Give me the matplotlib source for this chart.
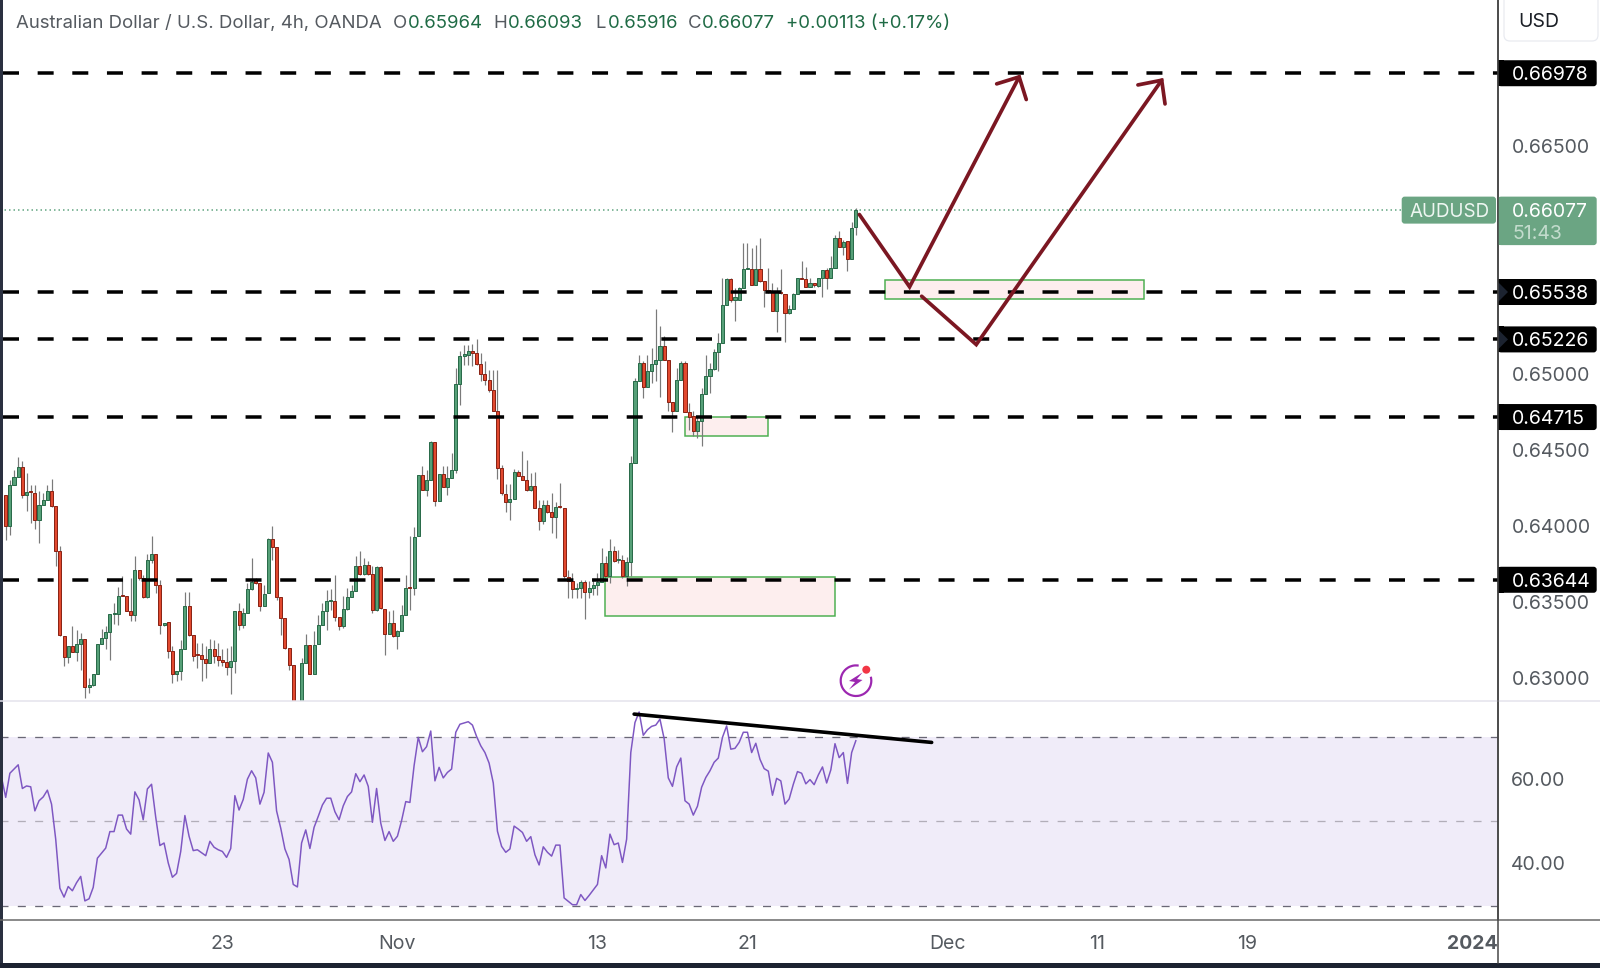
from matplotlib import pyplot as plt
from matplotlib.patches import Arc, Circle, FancyBboxPatch, Polygon, Rectangle
import numpy as np

plt.rcParams['font.family'] = ['Inter', 'DejaVu Sans']
plt.rcParams['lines.scale_dashes'] = False

# candles, prices in 1e-5 units
opens = [
    64204,63996,64270,64318,64384,64200,64228,64215,64035,64134,
    64171,64228,64130,63832,63272,63136,63211,63167,63218,63257,
    62941,62954,63025,63222,63261,63301,63421,63421,63542,63540,
    63441,63410,63711,63656,63529,63772,63814,63608,63345,63364,
    63174,63025,63042,63191,63470,63279,63156,63147,63125,63097,
    63185,63141,63119,63103,63071,63108,63437,63349,63426,63584,
    63641,63623,63474,63557,63913,63860,63529,63391,63193,63084,
    62790,62700,63097,63213,63025,63218,63349,63437,63503,63503,
    63400,63338,63452,63529,63568,63737,63685,63744,63682,63448,
    63726,63454,63285,63360,63272,63310,63415,63595,63590,63930,
    64332,64233,64299,64551,64161,64343,64255,64313,64366,64932,
    65120,65125,65147,65136,65066,64998,64960,64890,64756,64379,
    64210,64155,64175,64353,64324,64302,64232,64263,64116,64028,
    64138,64087,64057,64127,64116,63662,63634,63583,63587,63627,
    63566,63587,63609,63631,63754,63671,63831,63772,63776,63666,
    63761,64412,64949,65070,64910,65015,65066,65088,65184,65092,
    64813,64752,64960,65070,64745,64719,64620,64686,64868,64987,
    65033,65142,65201,65453,65622,65486,65486,65567,65688,65692,
    65581,65692,65609,65552,65535,65414,65539,65526,65399,65425,
    65526,65629,65622,65574,65596,65578,65629,65684,65629,65695,
    65892,65837,65874,65754,65964]
highs = [
    64204,64303,64369,64452,64428,64347,64270,64270,64226,64215,
    64270,64310,64130,63864,63272,63211,63338,63316,63294,63257,
    62998,63025,63222,63321,63338,63421,63492,63597,63670,63540,
    63656,63799,63711,63678,63816,63935,63814,63645,63360,63364,
    63211,63042,63246,63562,63562,63279,63228,63228,63207,63255,
    63250,63228,63185,63196,63207,63437,63492,63459,63623,63788,
    63656,63623,63612,63919,63996,63860,63529,63391,63193,63084,
    62790,63130,63290,63213,63305,63415,63492,63579,63584,63678,
    63400,63536,63590,63612,63799,63832,63788,63766,63733,63733,
    63737,63454,63437,63448,63316,63481,63678,63930,63992,64332,
    64391,64364,64560,64551,64343,64391,64391,64478,65037,65147,
    65191,65191,65197,65228,65136,65081,65026,65026,65026,64401,
    64276,64276,64375,64368,64493,64434,64346,64351,64171,64171,
    64171,64215,64153,64280,64116,63710,63688,63623,63644,63644,
    63634,63644,63688,63853,63798,63912,63864,63842,63809,63794,
    64460,64971,65125,65081,65125,65169,65425,65315,65250,65092,
    64813,65037,65087,65081,64806,64752,64719,64905,65125,65070,
    65162,65267,65629,65629,65629,65563,65574,65863,65863,65826,
    65848,65896,65609,65695,65600,65574,65688,65526,65453,65530,
    65629,65745,65701,65629,65596,65629,65684,65695,65778,65914,
    65942,65881,65874,66002,66093]
lows = [
    63908,63941,64270,64318,64182,64095,64018,63979,63886,64134,
    64171,64123,63737,63272,63075,63097,63167,63108,63053,62867,
    62900,62943,63025,63222,63185,63119,63356,63349,63536,63437,
    63371,63371,63645,63525,63525,63755,63557,63290,63338,63130,
    62965,62976,62987,63191,63272,63108,63064,62976,62998,63097,
    63097,63075,63075,63020,62889,63031,63316,63327,63426,63579,
    63619,63437,63470,63557,63777,63514,63283,63185,63053,62770,
    62650,62680,63097,63025,63025,63218,63349,63316,63448,63371,
    63316,63327,63448,63529,63568,63678,63678,63678,63426,63437,
    63454,63152,63285,63268,63189,63310,63415,63448,63546,63930,
    64233,64193,64299,64128,64161,64255,64204,64313,64346,64796,
    65059,65059,65048,65059,64949,64927,64883,64752,64307,64204,
    64087,64039,64175,64324,64302,64226,64226,64116,63969,64013,
    64083,63951,63919,64116,63655,63524,63524,63524,63524,63388,
    63524,63546,63546,63631,63666,63623,63763,63754,63655,63605,
    63666,64412,64949,64840,64910,64938,64949,64850,65092,64758,
    64614,64752,64960,64745,64631,64587,64576,64526,64868,64873,
    65026,65015,65201,65453,65475,65350,65486,65567,65688,65585,
    65581,65607,65442,65530,65410,65278,65526,65212,65394,65425,
    65526,65622,65574,65574,65574,65574,65504,65559,65629,65695,
    65837,65782,65673,65754,65916]
closes = [
    63996,64270,64318,64384,64200,64222,64222,64035,64134,64171,
    64228,64132,63836,63279,63136,63211,63167,63218,63257,62941,
    62954,63025,63222,63261,63301,63421,63426,63536,63536,63441,
    63410,63711,63656,63529,63772,63814,63608,63345,63360,63174,
    63025,63042,63191,63470,63283,63141,63147,63125,63097,63185,
    63141,63119,63103,63071,63108,63437,63349,63426,63584,63630,
    63623,63474,63553,63913,63860,63529,63391,63193,63084,62790,
    62700,63097,63213,63025,63213,63349,63437,63507,63509,63400,
    63338,63452,63529,63568,63737,63685,63744,63682,63448,63726,
    63459,63285,63360,63272,63310,63415,63590,63588,63926,64332,
    64233,64299,64551,64161,64343,64255,64314,64366,64932,65114,
    65129,65147,65136,65066,64998,64960,64890,64756,64379,64215,
    64155,64175,64353,64324,64302,64232,64263,64118,64028,64138,
    64087,64057,64123,64120,63666,63634,63583,63590,63627,63566,
    63587,63609,63631,63754,63671,63831,63767,63780,63666,63761,
    64412,64949,65070,64910,65015,65066,65088,65184,65092,64813,
    64752,64960,65070,64745,64715,64620,64686,64868,64987,65033,
    65142,65201,65453,65622,65486,65508,65567,65688,65697,65585,
    65692,65611,65552,65541,65414,65535,65530,65399,65425,65526,
    65629,65622,65574,65596,65581,65629,65684,65629,65695,65892,
    65837,65870,65754,65958,66077]

# first value belongs to the bar cut off at the left edge
rsi = [
    60.3,
    55.6,61.3,62.3,63.3,57.7,58.3,58.1,52.4,54.8,55.7,
    57.3,54.0,45.7,34.1,32.0,34.5,33.5,35.4,36.9,31.1,
    31.6,34.3,41.2,42.4,43.6,47.5,47.5,51.4,51.4,48.1,
    46.9,56.9,55.0,50.3,57.6,58.7,50.9,44.2,44.8,40.1,
    36.7,37.6,42.8,51.3,46.4,43.0,43.2,42.5,41.8,45.2,
    43.8,43.2,42.8,41.4,43.5,56.0,52.6,55.1,59.9,61.9,
    60.2,54.0,56.8,66.1,63.9,52.4,48.3,43.4,40.9,35.0,
    34.4,44.8,47.9,43.5,48.5,51.1,53.8,55.4,55.4,52.2,
    50.3,53.6,55.8,56.9,61.2,59.3,60.9,58.2,49.7,57.7,
    49.5,45.4,47.5,45.2,46.4,50.1,54.6,54.4,63.1,69.8,
    66.4,67.6,71.3,59.5,62.7,60.2,61.5,62.3,71.0,72.9,
    73.2,73.5,72.7,70.0,67.8,66.2,63.7,59.0,47.6,44.0,
    42.6,43.4,48.8,48.1,47.3,45.2,46.3,42.0,39.6,43.9,
    42.6,41.7,44.3,44.3,31.8,31.0,30.2,30.2,32.6,31.2,
    32.4,33.7,35.0,41.8,38.9,46.9,44.4,44.8,40.2,45.7,
    66.2,73.3,75.8,70.3,71.6,72.4,72.7,74.1,69.5,60.2,
    58.2,62.8,64.9,54.8,54.0,51.4,53.5,58.0,60.3,61.9,
    63.9,64.9,69.8,72.5,67.0,67.2,68.6,71.0,71.0,66.2,
    68.4,64.6,62.4,61.8,56.1,60.1,59.5,54.0,55.2,58.7,
    61.7,61.3,58.8,59.8,58.6,60.9,62.8,59.0,62.1,68.3,
    65.0,66.2,58.9,66.2,69.0]

levels = [0.66978, 0.65538, 0.65226, 0.64715, 0.63644]
level_labels = ['0.66978', '0.65538', '0.65226', '0.64715', '0.63644']
marked_levels = [0.65538, 0.65226]
last_price = 0.66077
price_ticks = [0.665, 0.65, 0.645, 0.64, 0.635, 0.63]
price_tick_labels = ['0.66500', '0.65000', '0.64500', '0.64000', '0.63500', '0.63000']
rsi_ticks = [60, 40]
rsi_tick_labels = ['60.00', '40.00']
time_ticks = [51.9, 93.9, 141.9, 177.9, 225.9, 261.9, 297.9, 351.9]
time_labels = ['23', 'Nov', '13', '21', 'Dec', '11', '19', '2024']

# drawings on the chart: (bar x, price)
path_a_x = [204.85, 216.9, 243.2]
path_a_y = [0.66048, 0.65572, 0.66954]
head_a_x = [237.8, 243.2, 244.9]
head_a_y = [0.66908, 0.66954, 0.66805]
path_b_x = [219.8, 232.9, 277.4]
path_b_y = [0.6551, 0.65192, 0.66932]
head_b_x = [271.7, 277.4, 278.2]
head_b_y = [0.66901, 0.66932, 0.66776]
zones = [(210.9, 273.1, 0.6549, 0.65615), (162.9, 183.0, 0.64588, 0.64718), (143.8, 199.1, 0.63408, 0.6366)]
trend_x = [150.8, 222.2]
trend_y = [75.3, 68.6]

up_fill, up_edge = '#56a078', '#2a6b4a'
down_fill, down_edge = '#e2492f', '#8a2416'
tag_green = '#6ba583'
text_grey = '#555a60'
px = 0.72  # one pixel in points at dpi 100

fig = plt.figure(figsize=(16, 9.68), dpi=100)
ax = fig.add_axes([0, (968 - 701) / 968, 1498 / 1600, 701 / 968])
ax2 = fig.add_axes([0, (968 - 919.5) / 968, 1498 / 1600, 218.5 / 968], sharex=ax)

x = np.arange(len(closes))
o = np.array(opens) / 1e5
h = np.array(highs) / 1e5
l = np.array(lows) / 1e5
c = np.array(closes) / 1e5
up = c >= o

ax.vlines(x, l, h, color='#7a7a7a', lw=1.2 * px, zorder=2)
ax.bar(x[up], (c - o)[up], bottom=o[up], width=0.74, color=up_fill, edgecolor=up_edge, lw=1.0 * px, zorder=3)
ax.bar(x[~up], (c - o)[~up], bottom=o[~up], width=0.74, color=down_fill, edgecolor=down_edge, lw=1.0 * px, zorder=3)

for x0, x1, y0, y1 in zones:
    ax.add_patch(Rectangle((x0, y0), x1 - x0, y1 - y0, fc='#fdeeee', ec='#4caf50', lw=1.5 * px, zorder=1))

xmin, xmax = -1.368, 358.1
for level in levels:
    ax.plot([-0.74, xmax], [level, level], color='black', lw=3.5 * px, dashes=(16 * px, 18.65 * px),
            dash_capstyle='butt', zorder=4)
ax.plot([xmin, 335.5], [last_price, last_price], color='#5fa37f', lw=1.5 * px, dashes=(1.5 * px, 3 * px), zorder=1)

for xs, ys in [(path_a_x, path_a_y), (head_a_x, head_a_y), (path_b_x, path_b_y), (head_b_x, head_b_y)]:
    ax.plot(xs, ys, color='#7b1722', lw=3.7 * px, solid_capstyle='round', solid_joinstyle='miter', zorder=5)

ax.set_xlim(xmin, xmax)
ax.set_ylim(0.62846, 0.6746)
ax.yaxis.tick_right()
ax.set_yticks(price_ticks, price_tick_labels)
ax.tick_params(axis='y', length=0, pad=14 * px, labelsize=14, labelcolor=text_grey)
ax.tick_params(axis='x', length=0, labelbottom=False)

ax2.axhspan(30, 70, color='#f0ecf9', lw=0, zorder=1)
for value, colour in [(70, '#6a6876'), (50, '#b2aeb9'), (30, '#6a6876')]:
    ax2.plot([xmin, xmax], [value, value], color=colour, lw=1.3 * px, dashes=(8 * px, 9.33 * px),
             dash_capstyle='butt', zorder=2)
ax2.plot(np.arange(-1, len(closes)), rsi, color='#7e57c2', lw=1.5 * px, zorder=3)
ax2.plot(trend_x, trend_y, color='black', lw=3.6 * px, solid_capstyle='round', zorder=4)
ax2.set_ylim(26.7, 78.4)
ax2.yaxis.tick_right()
ax2.set_yticks(rsi_ticks, rsi_tick_labels)
ax2.tick_params(axis='y', length=0, pad=12.5 * px, labelsize=14, labelcolor=text_grey)
for t in ax2.get_yticklabels():
    t.set_va('center_baseline')
ax2.set_xticks(time_ticks, time_labels)
ax2.tick_params(axis='x', length=0, pad=15.5 * px, labelsize=14, labelcolor=text_grey)
ax2.get_xticklabels()[-1].set_fontweight('bold')

for a in (ax, ax2):
    for side in ['top', 'left', 'bottom']:
        a.spines[side].set_visible(False)
    a.spines['right'].set_color('#444444')
    a.spines['right'].set_linewidth(1.5 * px)

# overlay in image pixels for the chrome around the chart
ov = fig.add_axes([0, 0, 1, 1], zorder=10)
ov.set_xlim(0, 1600)
ov.set_ylim(968, 0)
ov.axis('off')
ov.patch.set_alpha(0)


def price_y(p):
    return 968 - ax.transData.transform((0, p))[1]


def tag(y0, y1, colour):
    ov.add_patch(FancyBboxPatch((1498, y0), 98.7, y1 - y0, boxstyle='round,pad=0,rounding_size=3', fc=colour, ec='none'))
    ov.add_patch(Rectangle((1498, y0), 6, y1 - y0, fc=colour, ec='none'))


for level, label in zip(levels, level_labels):
    y = price_y(level)
    tag(y - 13, y + 13, 'black')
    ov.text(1512, y, label, color='white', fontsize=14, va='center_baseline')
    if level in marked_levels:
        ov.add_patch(Polygon([(1498, y - 10), (1508, y), (1498, y + 10)], fc='#1c2330', ec='none'))

y = price_y(last_price)
ov.add_patch(FancyBboxPatch((1401.7, y - 13.5), 94.3, 27, boxstyle='round,pad=0,rounding_size=3', fc=tag_green, ec='none'))
ov.text(1410, y, 'AUDUSD', color='#eef6f1', fontsize=13.6, va='center_baseline')
tag(y - 13.5, y + 35, tag_green)
ov.text(1512, y, '0.66077', color='white', fontsize=14, va='center_baseline')
ov.text(1512, y + 22, '51:43', color='#c3dccd', fontsize=14, va='center_baseline')

ov.add_patch(FancyBboxPatch((1504, -6), 94, 47, boxstyle='round,pad=0,rounding_size=6', fc='white', ec='#e8eaf0', lw=1.2 * px))
ov.text(1518.5, 20, 'USD', color='#1b1f26', fontsize=14, va='center_baseline')

# legend line
head_y = 21.7
header = [(16, 'Australian Dollar / U.S. Dollar, 4h, OANDA', text_grey),
          (392.7, 'O', text_grey), (408, '0.65964', '#1f6b45'),
          (493.3, 'H', text_grey), (508, '0.66093', '#1f6b45'),
          (595, 'L', text_grey), (608, '0.65916', '#1f6b45'),
          (688, 'C', text_grey), (701.7, '0.66077', '#1f6b45'),
          (786, '+0.00113 (+0.17%)', '#1f6b45')]
for hx, s, colour in header:
    ov.text(hx, head_y, s, color=colour, fontsize=13.4, va='center_baseline')

# pane separators and frame
ov.plot([0, 1600], [701, 701], color='#e4e2ec', lw=1.5 * px)
ov.plot([0, 1600], [919.5, 919.5], color='#666666', lw=1.5 * px)
ov.plot([1498.3, 1498.3], [0, 963], color='#444444', lw=1.5 * px)
ov.add_patch(Rectangle((0, 0), 2.7, 968, fc='#2a3040', ec='none'))
ov.add_patch(Rectangle((0, 963), 1600, 5, fc='#1c2230', ec='none'))

# alert icon
ov.add_patch(Arc((856, 680.7), 30.6, 30.6, theta1=-15, theta2=280, color='#9c27b0', lw=2.2 * px))
ov.add_patch(Circle((866.3, 669.7), 4, fc='#f23645', ec='none'))
ov.add_patch(Polygon([(862.5, 672.5), (849, 681), (855, 682), (849, 689.5), (862.5, 680), (857, 679)], fc='#9c27b0', ec='none'))

plt.savefig('out.png', dpi=100)
